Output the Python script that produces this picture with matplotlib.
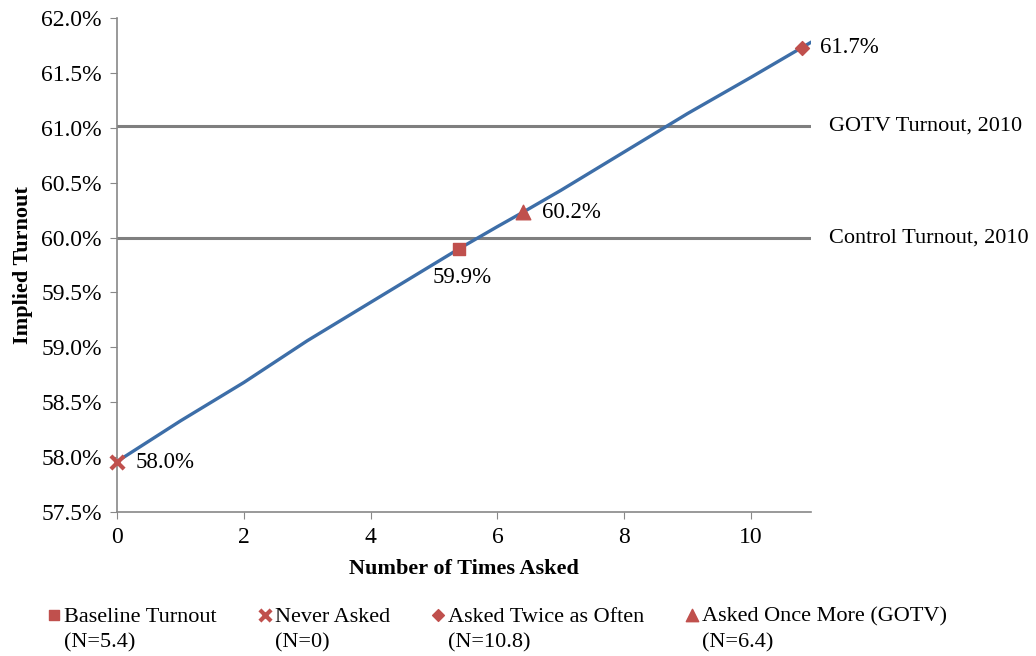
import matplotlib
matplotlib.use('Agg')
import matplotlib.pyplot as plt

# data
curve_x = [0, 1, 2, 3, 4, 5, 5.4, 6, 6.4, 7, 8, 9, 10, 10.8, 10.95]
curve_y = [57.96, 58.33, 58.68, 59.06, 59.41, 59.76, 59.90, 60.10, 60.23,
           60.43, 60.78, 61.13, 61.46, 61.73, 61.78]

point_names = ['Baseline Turnout\n(N=5.4)', 'Never Asked\n(N=0)',
               'Asked Twice as Often\n(N=10.8)', 'Asked Once More (GOTV)\n(N=6.4)']
point_x = [5.4, 0, 10.8, 6.4]
point_y = [59.90, 57.96, 61.73, 60.23]
point_text = ['59.9%', '58.0%', '61.7%', '60.2%']

ref_names = ['GOTV Turnout, 2010', 'Control Turnout, 2010']
ref_y = [61.02, 60.0]

yticks = [57.5, 58.0, 58.5, 59.0, 59.5, 60.0, 60.5, 61.0, 61.5, 62.0]
xticks = [0, 2, 4, 6, 8, 10]

# font
plt.rcParams['font.family'] = ['Liberation Serif', 'DejaVu Serif']

fig = plt.figure(figsize=(10.36, 6.56), dpi=100)
ax = fig.add_axes([0.113, 0.2195, 0.67, 0.753])

# reference lines
for name, v in zip(ref_names, ref_y):
    ax.plot([0, 10.95], [v, v], color='#7f7f7f', lw=2.2, zorder=1)
    ax.text(1.025, v, name, transform=ax.get_yaxis_transform(),
            fontsize=16, va='center', ha='left')

# curve
ax.plot(curve_x, curve_y, color='#3d6ea8', lw=2.4, zorder=2)

# markers
red = '#c0504d'
markers = ['s', 'x', 'D', '^']
sizes = [75, 90, 50, 110]
handles = []
for i in range(4):
    if markers[i] == 'x':
        h = ax.scatter(point_x[i], point_y[i], marker='x', s=sizes[i],
                       color=red, linewidths=3, zorder=3, clip_on=False)
    else:
        h = ax.scatter(point_x[i], point_y[i], marker=markers[i], s=sizes[i],
                       color=red, zorder=3, clip_on=False)
    handles.append(h)

# data labels
offsets = [(2, -21), (13, -1), (13, 0), (14, 0)]
aligns = ['center', 'left', 'left', 'left']
for i in range(4):
    ax.annotate(point_text[i], (point_x[i], point_y[i]),
                xytext=offsets[i], textcoords='offset points',
                fontsize=16.5, ha=aligns[i], va='center')

ax.set_xlim(0, 10.95)
ax.set_ylim(57.5, 62.0)
ax.set_xticks(xticks)
ax.set_yticks(yticks)
ax.set_yticklabels(['%.1f%%' % t for t in yticks])
ax.tick_params(labelsize=17, color='#888888', length=5, pad=6)

for s in ['top', 'right']:
    ax.spines[s].set_visible(False)
for s in ['left', 'bottom']:
    ax.spines[s].set_color('#888888')
    ax.spines[s].set_linewidth(1.2)

ax.set_xlabel('Number of Times Asked', fontsize=16, fontweight='bold', labelpad=8)
ax.set_ylabel('Implied Turnout', fontsize=16, fontweight='bold', labelpad=6)

leg = fig.legend(handles=handles, labels=point_names, loc='upper left',
                 bbox_to_anchor=(0.045, 0.074), ncol=4, frameon=False, fontsize=16,
                 handletextpad=0.1, columnspacing=1.8, handlelength=0.7,
                 borderaxespad=0, borderpad=0, markerscale=0.85,
                 scatteryoffsets=[1.38])
for t in leg.get_texts():
    t.set_linespacing(1.45)

fig.savefig('out.png', dpi=100)
